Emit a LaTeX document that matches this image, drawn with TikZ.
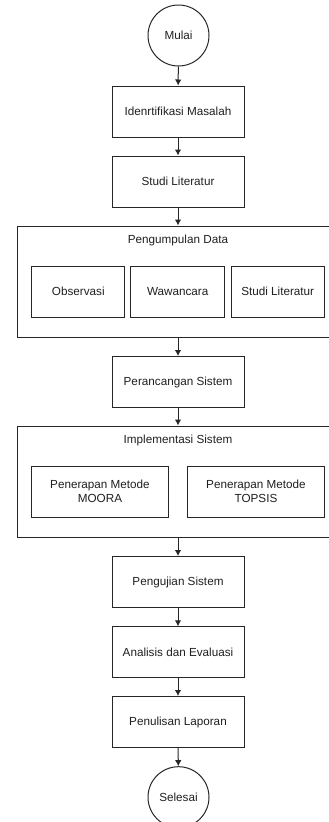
\documentclass[tikz,border=0pt]{standalone}
\usepackage{fontspec}
\setmainfont{Liberation Sans}
\usepackage{tikz}
\usetikzlibrary{arrows.meta}

\tikzset{
    stepbox/.style={draw=black!85, line width=1pt, minimum width=132pt, minimum height=51pt, align=center, inner sep=2pt},
    subbox/.style={draw=black!85, line width=1pt, minimum height=51pt, align=center, inner sep=2pt},
    groupbox/.style={draw=black!85, line width=1pt, minimum width=322pt, minimum height=111pt},
    terminal/.style={draw=black!85, line width=1pt, circle, minimum size=61pt, inner sep=0pt},
    flow/.style={draw=black!85, line width=1pt, -{Latex[length=6pt,width=6.5pt]}}
}

\begin{document}
\begin{tikzpicture}[x=1pt, y=-1pt, font=\fontsize{11.7}{14}\selectfont, text=black!88]
        \useasboundingbox (0,0) rectangle (329,822);
        \clip (0,0) rectangle (329,822);

        \node[terminal] (mulai) at (178.5,35.5) {Mulai};
        \node[stepbox] (identifikasi) at (178,111.5) {Idenrtifikasi Masalah};
        \node[stepbox] (studi) at (178,181.5) {Studi Literatur};

        \node[groupbox] (pengumpulan) at (178,281.5) {};
        \node (pengumpulanlabel) at (178,240.7) {Pengumpulan Data};
        \node[subbox, minimum width=93.3pt] (observasi) at (78.3,291.5) {Observasi};
        \node[subbox, minimum width=94pt] (wawancara) at (177.7,291.5) {Wawancara};
        \node[subbox, minimum width=93.3pt] (literatur) at (277.7,291.5) {Studi Literatur};

        \node[stepbox] (perancangan) at (178,382) {Perancangan Sistem};

        \node[groupbox] (implementasi) at (178,481.5) {};
        \node (implementasilabel) at (178,440.7) {Implementasi Sistem};
        \node[subbox, minimum width=136.6pt] (moora) at (100,491.7) {Penerapan Metode\\MOORA};
        \node[subbox, minimum width=136.3pt] (topsis) at (256,491.7) {Penerapan Metode\\TOPSIS};

        \node[stepbox] (pengujian) at (178,582) {Pengujian Sistem};
        \node[stepbox] (analisis) at (178,652.3) {Analisis dan Evaluasi};
        \node[stepbox] (penulisan) at (178,722) {Penulisan Laporan};
        \node[terminal] (selesai) at (178.5,797.2) {Selesai};

        \draw[flow] (mulai) -- (identifikasi);
        \draw[flow] (identifikasi) -- (studi);
        \draw[flow] (studi) -- (pengumpulan);
        \draw[flow] (pengumpulan) -- (perancangan);
        \draw[flow] (perancangan) -- (implementasi);
        \draw[flow] (implementasi) -- (pengujian);
        \draw[flow] (pengujian) -- (analisis);
        \draw[flow] (analisis) -- (penulisan);
        \draw[flow] (penulisan) -- (selesai);
    \end{tikzpicture}
\end{document}
